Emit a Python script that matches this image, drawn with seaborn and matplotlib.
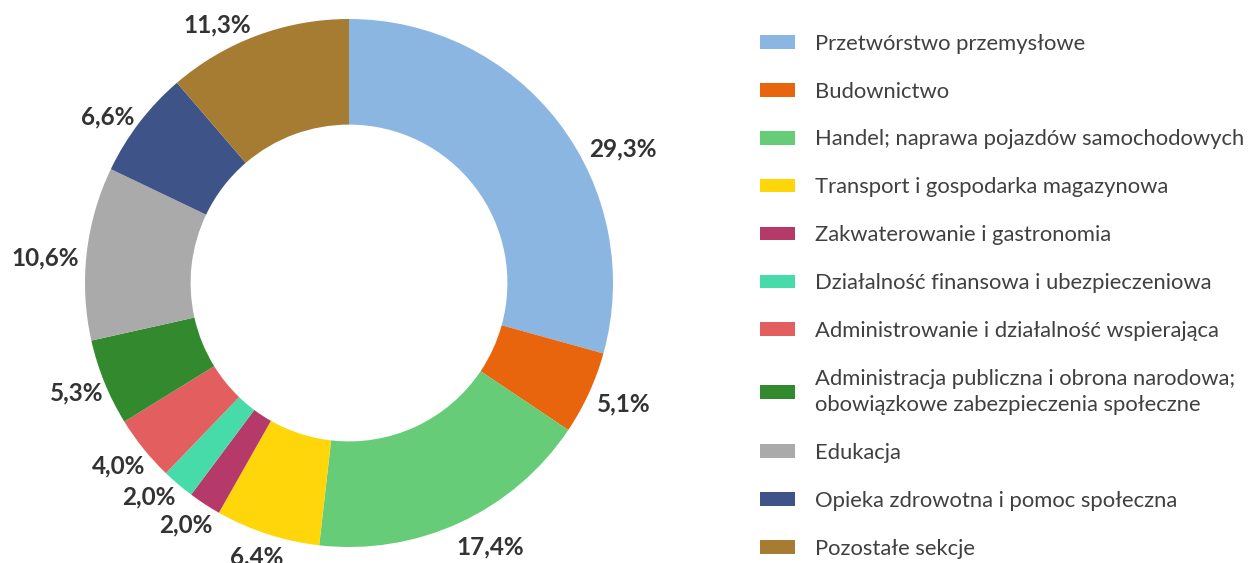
import matplotlib
matplotlib.use("Agg")
import matplotlib.pyplot as plt
import seaborn as sns
import numpy as np

categories = [
    "Przetwórstwo przemysłowe",
    "Budownictwo",
    "Handel; naprawa pojazdów samochodowych",
    "Transport i gospodarka magazynowa",
    "Zakwaterowanie i gastronomia",
    "Działalność finansowa i ubezpieczeniowa",
    "Administrowanie i działalność wspierająca",
    "Administracja publiczna i obrona narodowa;\nobowiązkowe zabezpieczenia społeczne",
    "Edukacja",
    "Opieka zdrowotna i pomoc społeczna",
    "Pozostałe sekcje",
]
values = [29.3, 5.1, 17.4, 6.4, 2.0, 2.0, 4.0, 5.3, 10.6, 6.6, 11.3]
colors = ["#8AB6E1", "#E8650E", "#66CC77", "#FFD60A", "#B53A6A", "#47DBA9",
          "#E35F5F", "#338A2E", "#AAAAAA", "#3E5488", "#A57C32"]

# label placement (in units of the outer radius, relative to the donut centre)
label_pos = [(1.038, 0.508), (1.042, -0.458), (0.534, -1.0), (-0.348, -1.038),
             (-0.617, -0.917), (-0.758, -0.811), (-0.871, -0.693), (-1.030, -0.417),
             (-1.152, 0.095), (-0.913, 0.629), (-0.5, 0.977)]

sns.set_theme(style="white")
plt.rcParams['font.family'] = ['Lato', 'DejaVu Sans']

fig = plt.figure(figsize=(12.49, 5.63), dpi=100)
R = 264.0
half = 1.3
W, H = 1249, 563
cx, cy = 349, 563 - 283
ax = fig.add_axes([(cx - half * R) / W, (cy - half * R) / H, 2 * half * R / W, 2 * half * R / H])
ax.axis("off")

wedges, _ = ax.pie(values, colors=colors, startangle=90, counterclock=False,
                   radius=1.0, wedgeprops=dict(width=0.4, linewidth=0), labels=None)
ax.set_xlim(-half, half)
ax.set_ylim(-half, half)
ax.set_aspect("equal")

for (lx, ly), v in zip(label_pos, values):
    ax.text(lx, ly, f"{v:.1f}%".replace(".", ","),
            ha="center", va="center", fontsize=17.5, fontweight="bold", color="#333333")

leg = fig.legend(wedges, categories, loc="upper left", bbox_to_anchor=(740 / W, 1 - 14 / H),
                 frameon=False, fontsize=15.8, handlelength=1.6, handleheight=0.58,
                 labelspacing=1.27, handletextpad=0.92, labelcolor="#404040")
for t in leg.get_texts():
    t.set_linespacing(1.38)

fig.savefig("out.png", dpi=100)
